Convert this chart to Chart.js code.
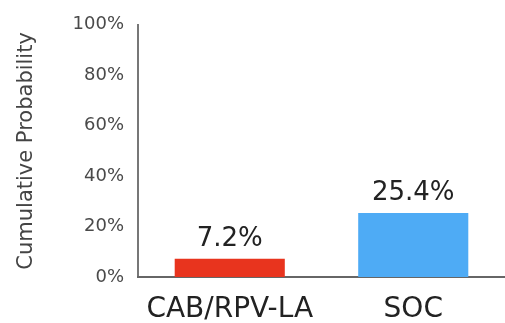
<!DOCTYPE html>
<html>
<head>
<meta charset="utf-8">
<script src="https://cdn.jsdelivr.net/npm/chart.js@4/dist/chart.umd.min.js"></script>
<style>
  html, body { margin:0; padding:0; background:#fff; }
  #wrap { width:505px; height:323px; }
</style>
</head>
<body>
<div id="wrap"><canvas id="c" width="505" height="323"></canvas></div>
<script>
// ── Data ──────────────────────────────────────────────
const categories = ['CAB/RPV-LA', 'SOC'];
const values     = [7.2, 25.4];
const barColors  = ['rgb(232,52,30)', 'rgb(78,171,245)'];
const yTicks     = [0, 20, 40, 60, 80, 100];

const FONT = "'DejaVu Sans', sans-serif";

// value labels above bars
const valueLabels = {
  id: 'valueLabels',
  afterDatasetsDraw(chart) {
    const ctx = chart.ctx;
    const meta = chart.getDatasetMeta(0);
    ctx.save();
    ctx.font = '26px ' + FONT;
    ctx.fillStyle = '#222';
    ctx.textAlign = 'center';
    ctx.textBaseline = 'alphabetic';
    meta.data.forEach((bar, i) => {
      ctx.fillText(values[i].toFixed(1) + '%', bar.x, bar.y - 13);
    });
    ctx.restore();
  }
};

new Chart(document.getElementById('c').getContext('2d'), {
  type: 'bar',
  data: {
    labels: categories,
    datasets: [{
      data: values,
      backgroundColor: barColors,
      borderWidth: 0,
      barPercentage: 0.6,
      categoryPercentage: 1.0
    }]
  },
  options: {
    responsive: false,
    animation: false,
    layout: { padding: { top: 22, right: 0, left: 0, bottom: 0 } },
    plugins: { legend: { display: false }, tooltip: { enabled: false } },
    scales: {
      y: {
        min: 0, max: 100,
        afterBuildTicks: s => { s.ticks = yTicks.map(v => ({ value: v })); },
        afterFit: s => { s.width = 138; },
        ticks: {
          color: '#4a4a4a',
          padding: 14,
          font: { family: FONT, size: 18 },
          callback: v => v + '%'
        },
        grid: { display: false, drawTicks: false },
        border: { display: true, color: '#777', width: 2 },
        title: {
          display: true,
          text: 'Cumulative Probability',
          color: '#444',
          font: { family: FONT, size: 21 },
          padding: { top: 14, bottom: 0 }
        }
      },
      x: {
        afterFit: s => { s.height = 46; },
        ticks: {
          color: '#222',
          padding: 16,
          font: { family: FONT, size: 28 }
        },
        grid: { display: false, drawTicks: false },
        border: { display: true, color: '#666', width: 2 }
      }
    }
  },
  plugins: [valueLabels]
});
</script>
</body>
</html>
